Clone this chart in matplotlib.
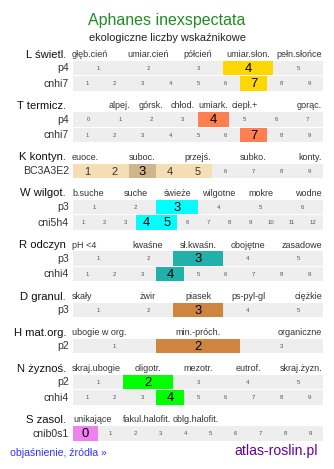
import matplotlib
matplotlib.use("Agg")
import matplotlib.pyplot as plt

plt.rcParams['font.family'] = ['Liberation Sans', 'DejaVu Sans']

title = "Aphanes inexspectata"
subtitle = "ekologiczne liczby wskaźnikowe"

# section names
sections = ["L świetl.", "T termicz.", "K kontyn.", "W wilgot.", "R odczyn",
            "D granul.", "H mat.org.", "N żyznoś.", "S zasol."]

# header labels: texts, slot index, number of slots
L_head = ["głęb.cień", "umiar.cień", "półcień", "umiar.słon.", "pełn.słońce"]
T_head = ["alpej.", "górsk.", "chłod.", "umiark.", "ciepł.+", "gorąc."]
K_head = ["euoce.", "suboc.", "przejś.", "subko.", "konty."]
W_head = ["b.suche", "suche", "świeże", "wilgotne", "mokre", "wodne"]
R_head = ["pH <4", "kwaśne", "sł.kwaśn.", "obojętne", "zasadowe"]
D_head = ["skały", "żwir", "piasek", "ps-pyl-gl", "ciężkie"]
H_head = ["ubogie w org.", "min.-próch.", "organiczne"]
N_head = ["skraj.ubogie", "oligotr.", "mezotr.", "eutrof.", "skraj.żyzn."]
S_head = ["unikające", "fakul.halofit.", "oblg.halofit."]
head_slots = [[0, 1, 2, 3, 4], [1, 2, 3, 4, 5, 7], [0, 2, 4, 6, 8],
              [0, 1, 2, 3, 4, 5], [0, 1, 2, 3, 4], [0, 1, 2, 3, 4],
              [0, 2, 4], [0, 1, 2, 3, 4], [0, 2, 4]]
head_nslots = [5, 8, 9, 6, 5, 5, 5, 5, 10]
heads = [L_head, T_head, K_head, W_head, R_head, D_head, H_head, N_head, S_head]

# rows per section: (label, scale, values, range)
rows = [
    [("p4", list(range(1, 6)), [4], []), ("cnhi7", list(range(1, 10)), [7], [])],
    [("p4", list(range(0, 8)), [4], []), ("cnhi7", list(range(1, 10)), [7], [])],
    [("BC3A3E2", list(range(1, 10)), [3], [1, 2, 3, 4, 5])],
    [("p3", list(range(1, 7)), [3], []), ("cni5h4", list(range(1, 13)), [4, 5], [])],
    [("p3", list(range(1, 6)), [3], []), ("cnhi4", list(range(1, 10)), [4], [])],
    [("p3", list(range(1, 6)), [3], [])],
    [("p2", list(range(1, 4)), [2], [])],
    [("p2", list(range(1, 6)), [2], []), ("cnhi4", list(range(1, 10)), [4], [])],
    [("cnib0s1", list(range(0, 10)), [0], [])],
]
colors = ["#ffd700", "#ff7f50", "#d2b48c", "#00ffff", "#20b2aa",
          "#cd853f", "#cd853f", "#00ff00", "#ee82ee"]
range_color = "#f5deb3"

W_px, H_px = 334, 469
fig = plt.figure(figsize=(W_px / 100, H_px / 100), dpi=100)
ax = fig.add_axes([0, 0, 1, 1])
ax.set_xlim(0, W_px)
ax.set_ylim(H_px, 0)
ax.axis("off")

pt = 0.72  # px -> pt
x0, x1 = 73, 323
bw = x1 - x0

ax.text(167, 20, title, ha="center", va="center", fontsize=16 * pt, color="#228b22")
ax.text(167, 38, subtitle, ha="center", va="center", fontsize=11 * pt, color="#222222")

h = 54.5
rh, pitch = 14.5, 15.5
for s, name in enumerate(sections):
    ax.text(66, h, name, ha="right", va="center", fontsize=11.3 * pt, color="#111111")
    n = head_nslots[s]
    cw = bw / n
    for lab, slot in zip(heads[s], head_slots[s]):
        if s == 8:
            ax.text(x0 + slot * cw, h, lab, ha="left", va="center", fontsize=9 * pt, color="#333333")
        elif slot == 0:
            ax.text(x0 - 1, h, lab, ha="left", va="center", fontsize=9 * pt, color="#333333")
        elif slot == n - 1:
            ax.text(x1 - 1, h, lab, ha="right", va="center", fontsize=9 * pt, color="#333333")
        else:
            ax.text(x0 + (slot + 0.5) * cw, h, lab, ha="center", va="center", fontsize=9 * pt, color="#333333")
    for i, (lab, scale, vals, rng) in enumerate(rows[s]):
        top = h + 6.5 + i * pitch
        yc = top + rh / 2
        ax.text(69, yc, lab, ha="right", va="center", fontsize=10.5 * pt, color="#333333")
        cw = bw / len(scale)
        ax.barh(yc, bw, left=x0, height=rh, color="#eeeeee", linewidth=0)
        for k, v in enumerate(scale):
            cx = x0 + (k + 0.5) * cw
            if v in vals:
                ax.barh(yc, cw, left=x0 + k * cw, height=rh, color=colors[s], linewidth=0)
                ax.text(cx, yc + 0.5, str(v), ha="center", va="center", fontsize=13 * pt, color="#000000")
            elif v in rng:
                ax.barh(yc, cw, left=x0 + k * cw, height=rh, color=range_color, linewidth=0)
                ax.text(cx, yc + 0.5, str(v), ha="center", va="center", fontsize=11 * pt, color="#333333")
            else:
                ax.text(cx, yc, str(v), ha="center", va="center", fontsize=6 * pt, color="#555555")
    h += 20.5 + pitch * len(rows[s])

ax.text(10, 453, "objaśnienie, źródła »", ha="left", va="center", fontsize=10.5 * pt, color="#3333ff")
ax.text(318, 451, "atlas-roslin.pl", ha="right", va="center", fontsize=14 * pt, color="#660099")

fig.savefig("out.png", dpi=100)
